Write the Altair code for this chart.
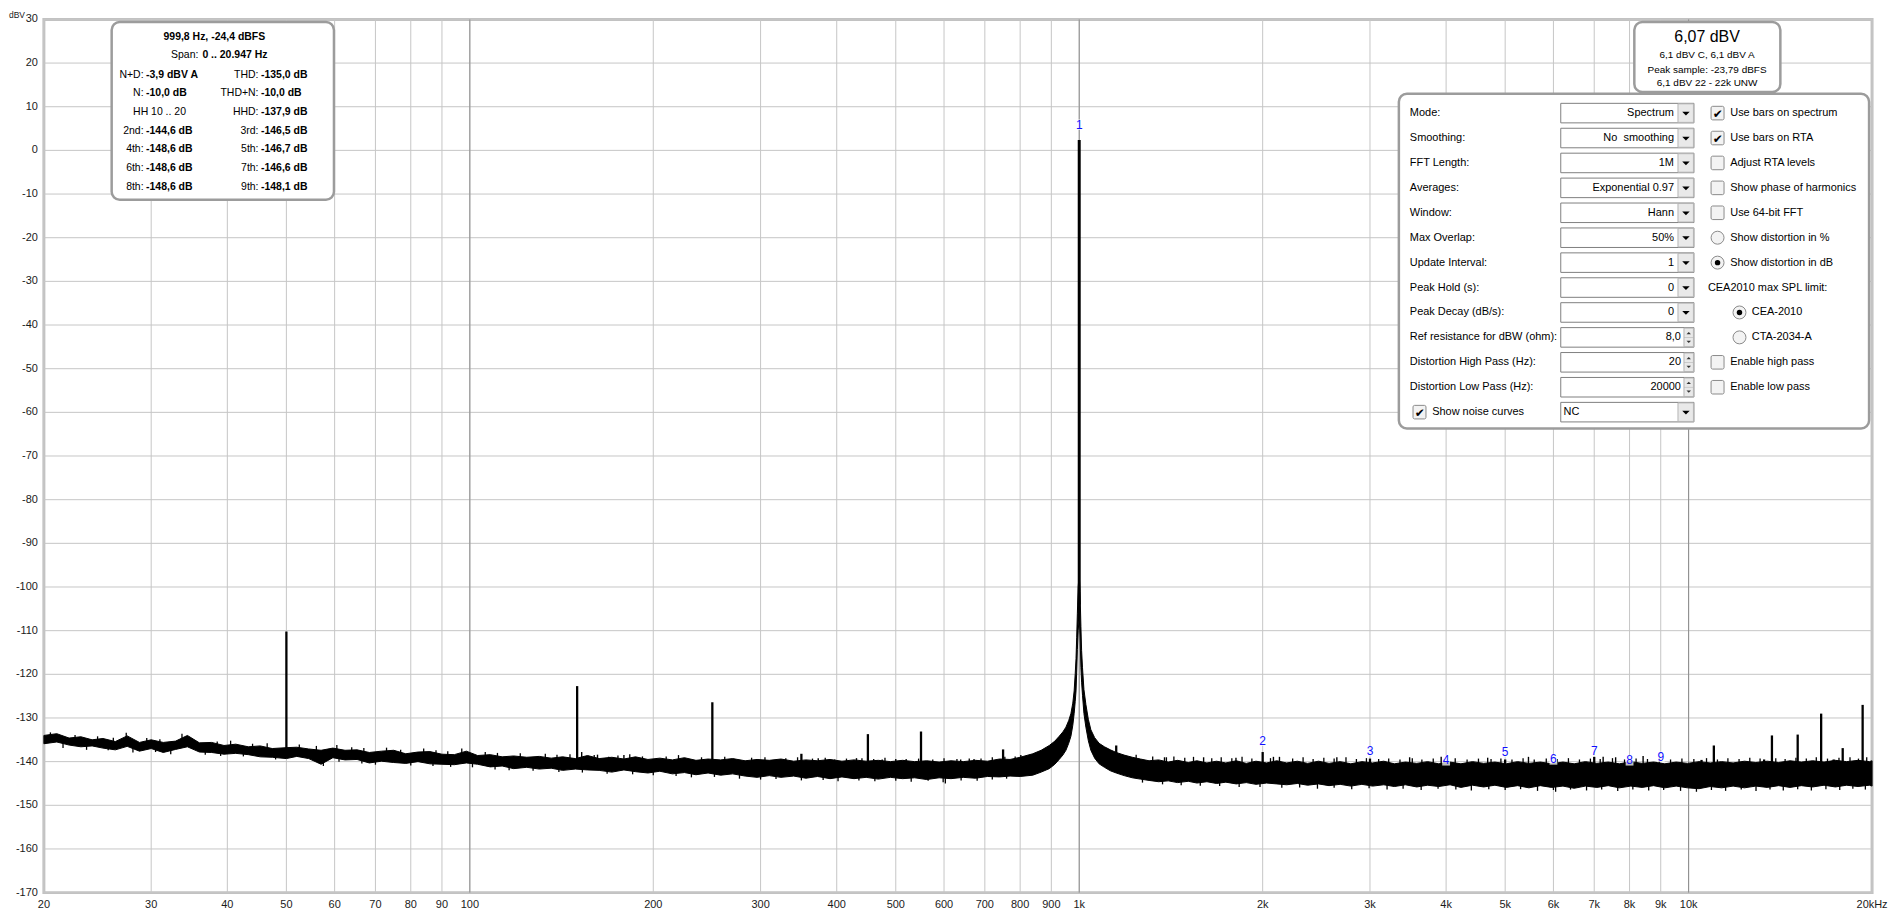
import altair as alt
import pandas as pd

FONT = "Liberation Sans"

# ---------------- spectrum values ----------------
band_freq = [20, 21, 22, 23, 24, 25, 26.2, 27.4, 28.7, 30, 31.4, 32.9, 34.4, 36, 37.7, 39.5,
             41.3, 43.3, 45.3, 47.4, 50, 52, 54.4, 57, 59.6, 62.4, 65.3, 68.4, 71.6, 75, 78.5,
             82.2, 86, 90, 94.3, 98.7, 103, 108, 113, 118, 124, 130, 136, 142, 149, 156, 163,
             171, 179, 187, 196, 205, 215, 225, 235, 246, 258, 270, 283, 296, 310, 324, 340,
             356, 372, 390, 408, 427, 447, 468, 490, 513, 537, 562, 589, 616, 645, 676, 707,
             740, 770, 800, 839, 866, 893, 912, 927, 940, 951, 961, 969, 976, 981, 985, 988,
             990.5, 993, 996, 1000, 1003, 1006.4, 1009, 1012.5, 1018, 1025.5, 1035, 1045, 1060,
             1078, 1100, 1125, 1150, 1185, 1222, 1260, 1302, 1350, 1400, 1450, 1510, 1560, 1620,
             1680, 1740, 1810, 1880, 1950, 2030, 2110, 2190, 2280, 2370, 2470, 2570, 2680, 2790,
             2910, 3030, 3160, 3290, 3430, 3580, 3730, 3890, 4060, 4230, 4420, 4610, 4810, 5020,
             5240, 5470, 5710, 5960, 6220, 6490, 6770, 7070, 7380, 7700, 8040, 8390, 8760, 9140,
             9540, 9960, 10400, 10850, 11330, 11830, 12350, 12890, 13460, 14050, 14670, 15310,
             15980, 16680, 17410, 18170, 18970, 19800, 20000]
band_upper = [-134.0, -133.6, -134.6, -134.3, -135.0, -134.7, -135.4, -134.1, -135.6, -135.0,
              -135.6, -135.3, -134.0, -135.7, -135.6, -136.3, -136.0, -136.6, -136.4, -137.0,
              -136.8, -136.7, -137.1, -137.4, -136.9, -137.4, -137.3, -137.9, -137.6, -137.4,
              -138.2, -137.8, -137.7, -138.3, -138.4, -137.6, -138.6, -138.4, -138.9, -138.7,
              -139.0, -138.8, -139.2, -138.9, -139.3, -138.6, -139.3, -139.0, -139.4, -138.9,
              -139.5, -139.2, -139.6, -139.1, -139.7, -139.4, -139.6, -139.3, -139.8, -139.5,
              -139.7, -139.4, -139.9, -139.6, -139.8, -139.5, -139.9, -139.6, -139.9, -139.7,
              -140.0, -139.7, -140.0, -139.8, -140.1, -139.8, -140.0, -139.7, -139.9, -139.4,
              -139.5, -139.0, -138.2, -137.4, -136.3, -135.3, -134.2, -133.2, -132.1, -130.6,
              -129.0, -126.6, -123.8, -119.8, -116.4, -111.5, -106.0, -100.0, -97.0, -101.0,
              -109.1, -114.5, -118.5, -123.5, -126.9, -130.3, -132.7, -134.5, -135.8, -136.6,
              -137.3, -137.9, -138.5, -139.0, -139.4, -139.8, -139.6, -140.1, -139.7, -140.2,
              -139.8, -140.3, -139.9, -140.3, -139.8, -140.4, -139.9, -140.3, -139.8, -140.3,
              -139.9, -140.4, -139.9, -140.4, -140.0, -140.5, -140.0, -140.3, -139.9, -140.5,
              -140.1, -140.4, -140.0, -140.5, -140.1, -140.5, -140.0, -140.4, -140.1, -140.5,
              -140.0, -140.4, -140.1, -140.5, -140.1, -140.5, -140.0, -140.4, -140.1, -140.5,
              -140.0, -140.4, -140.1, -140.5, -140.1, -140.4, -140.0, -140.3, -140.0, -140.3,
              -139.9, -140.2, -139.9, -140.2, -139.8, -140.1, -139.8, -140.1, -139.7, -140.0,
              -139.7, -140.0, -139.8]
band_lower = [-135.9, -135.5, -136.2, -136.6, -136.4, -136.9, -137.3, -136.5, -137.6, -137.0,
              -137.9, -137.2, -136.6, -137.8, -137.9, -138.3, -138.1, -138.4, -138.9, -139.0,
              -139.3, -138.8, -139.3, -140.6, -139.1, -139.6, -139.5, -140.3, -139.9, -140.2,
              -140.4, -140.0, -140.5, -140.6, -140.7, -140.3, -140.6, -141.2, -141.0, -141.6,
              -141.3, -141.7, -141.5, -142.0, -141.7, -141.9, -142.0, -142.4, -141.9, -142.3,
              -142.6, -142.2, -142.8, -142.5, -143.0, -142.6, -143.1, -142.8, -143.3, -143.6,
              -143.2, -143.6, -143.3, -143.8, -143.4, -143.9, -143.5, -143.9, -143.6, -144.0,
              -143.6, -143.9, -143.7, -144.1, -143.7, -143.9, -143.6, -143.8, -143.4, -143.5,
              -143.3, -143.4, -143.1, -142.4, -141.6, -140.6, -139.5, -138.5, -137.4, -135.8,
              -134.2, -131.7, -129.0, -126.2, -123.8, -119.5, -114.3, -110.0, -107.0, -111.0,
              -118.5, -121.8, -124.8, -129.0, -132.1, -135.2, -137.4, -139.2, -140.5, -141.3,
              -142.1, -142.6, -143.2, -143.7, -144.0, -144.3, -144.6, -144.4, -144.8, -144.5,
              -144.9, -144.6, -145.0, -144.7, -145.1, -144.8, -145.2, -144.9, -145.1, -145.3,
              -145.0, -145.4, -145.1, -145.5, -145.2, -145.6, -145.2, -145.6, -145.3, -145.7,
              -145.3, -145.8, -145.4, -145.7, -145.3, -145.9, -145.4, -145.8, -145.4, -145.9,
              -145.5, -146.0, -145.5, -145.9, -145.6, -146.1, -145.6, -145.9, -145.5, -146.0,
              -145.6, -145.9, -145.5, -146.0, -145.6, -146.0, -146.2, -145.7, -146.0, -145.6,
              -146.0, -145.6, -145.9, -145.5, -145.9, -145.5, -145.8, -145.4, -145.8, -145.4,
              -145.7, -145.4, -145.6]

# short noise peaks standing above the floor (frequency, tip)
fuzz_up_freq = [20.5, 22.5, 24.5, 26, 27.3, 29.5, 31, 33.7, 35, 38.5, 40.5, 44, 46.5, 52.5, 56,
                60.5, 64, 67, 73, 77, 84, 88, 92, 97, 106, 111, 121, 133, 139, 146, 160, 175,
                183, 192, 210, 220, 240, 262, 290, 305, 330, 345, 365, 383, 415, 440, 460, 480,
                520, 545, 575, 600, 630, 660, 690, 720, 755, 785,
                1240, 1320, 1380, 1430, 1490, 1540, 1650, 1710, 1780, 1850, 1920, 2060, 2240,
                2330, 2420, 2520, 2620, 2740, 2850, 2960, 3100, 3220, 3360, 3520, 3650, 3810,
                3970, 4140, 4330, 4520, 4740, 4920, 5130, 5350, 5580, 5840, 6090, 6350, 6620,
                6900, 7160, 7500, 7850, 8200, 8560, 8950, 9340, 9750, 10200, 10700, 11150,
                11600, 12100, 12600, 13100, 13900, 14400, 15000, 15600, 16200, 16900, 17650,
                18400, 19000, 19600]
fuzz_up_tip = [-133.3, -133.9, -134.2, -134.5, -133.4, -134.6, -134.9, -133.6, -135.1, -135.4,
               -135.2, -135.9, -135.8, -136.1, -136.4, -136.2, -136.7, -136.9, -136.8, -137.3,
               -137.0, -137.4, -137.6, -137.0, -137.8, -138.0, -138.1, -138.2, -138.4, -138.3,
               -138.5, -138.6, -138.3, -138.8, -138.8, -138.5, -139.0, -138.9, -139.1, -139.0,
               -139.2, -139.0, -139.3, -139.1, -139.3, -139.2, -139.4, -139.1, -139.4, -139.3,
               -139.5, -139.2, -139.4, -139.3, -139.3, -139.0, -138.9, -138.8,
               -138.4, -138.8, -139.0, -138.8, -139.1, -138.9, -139.2, -139.0, -139.2, -138.9,
               -139.3, -139.2, -139.3, -139.0, -139.4, -139.1, -139.3, -139.0, -139.4, -139.2,
               -139.4, -139.3, -139.5, -139.2, -139.5, -139.3, -139.5, -139.2, -139.5, -139.3,
               -139.4, -139.3, -139.5, -139.2, -139.5, -139.3, -139.4, -139.2, -139.5, -139.3,
               -139.4, -139.2, -139.5, -139.3, -139.4, -139.2, -139.5, -139.3, -139.4, -139.2,
               -139.5, -139.2, -139.4, -139.1, -139.3, -139.2, -139.4, -139.1, -139.3, -139.0,
               -139.3, -139.1, -139.0, -139.3, -139.0]
# short noise dips below the floor (frequency, tip)
fuzz_dn_freq = [21.5, 23.5, 25.5, 28, 30.5, 32.3, 36.8, 39, 42.5, 48, 55.5, 57.5, 61, 66.5, 70,
                80, 87, 93, 101, 110, 116, 127, 140, 153, 168, 185, 200, 218, 231, 252, 277,
                300, 318, 350, 380, 402, 435, 462, 500, 530, 565, 598, 603, 640, 680, 720, 760,
                1270, 1370, 1470, 1580, 1700, 1830, 1980, 2150, 2300, 2460, 2620, 2800, 2990,
                3200, 3400, 3640, 3880, 4150, 4400, 4700, 5000, 5300, 5650, 6000, 6050, 6400,
                6800, 7200, 7650, 8100, 8600, 9100, 9700, 10300, 10900, 11500, 12200, 12900,
                13600, 14300, 15100, 15900, 16800, 17700, 18600, 19500]
fuzz_dn_tip = [-136.9, -137.3, -137.4, -137.9, -137.8, -138.3, -138.4, -138.7, -138.8, -139.5,
               -139.8, -141.0, -140.0, -140.4, -140.7, -140.9, -141.0, -141.2, -141.3, -141.8,
               -142.0, -142.1, -142.4, -142.5, -142.8, -142.9, -143.1, -143.3, -143.6, -143.5,
               -143.9, -144.1, -144.0, -144.3, -144.2, -144.5, -144.3, -144.5, -144.4, -144.6,
               -144.4, -144.7, -145.0, -144.3, -144.4, -144.1, -143.9,
               -144.8, -145.2, -145.4, -145.5, -145.6, -145.8, -145.8, -146.0, -145.9, -146.2,
               -146.0, -146.3, -146.1, -146.4, -146.2, -146.5, -146.2, -146.4, -146.6, -146.3,
               -146.5, -146.3, -146.7, -146.5, -146.9, -146.4, -146.6, -146.4, -146.7, -146.4,
               -146.6, -146.5, -146.7, -146.9, -146.5, -146.7, -146.4, -146.7, -146.4, -146.6,
               -146.3, -146.6, -146.3, -146.5, -146.2, -146.4]

# discrete tones (frequency, top level, floor under the tone)
spike_freq = [50, 150, 250, 350, 450, 550, 750, 1150, 2000, 3000, 5000, 7000,
              10500, 11000, 13300, 13700, 15100, 16500, 17300, 17900, 19300]
spike_top = [-110.2, -122.7, -126.4, -138.2, -133.7, -133.1, -137.2, -136.3, -137.8, -139.3,
             -139.5, -138.9, -139.6, -136.3, -139.5, -134.0, -133.8, -129.0, -139.5, -136.9,
             -127.0]
spike_base = [-138.5, -140.5, -141.0, -141.5, -141.5, -141.5, -141.5, -141.5, -142.0, -142.0,
              -142.0, -142.0, -142.0, -142.0, -142.0, -142.0, -142.0, -142.0, -142.0, -142.0,
              -142.0]

# small tones sitting on the floor
tick_freq = [152.6, 162, 169, 179, 373, 397, 431, 475, 500, 639, 672, 802, 1390, 1600, 1808,
             2083, 2131, 2647, 3485, 3926, 4680, 5460, 7240, 7590, 8420]
tick_top = [-137.8, -138.4, -138.9, -138.5, -139.2, -139.5, -139.2, -139.5, -139.4, -139.5,
            -139.4, -138.5, -139.0, -139.0, -139.1, -138.9, -138.9, -139.0, -139.0, -138.9,
            -139.1, -138.9, -138.9, -139.0, -138.7]
tick_base = [-141.0] * 12 + [-142.0] * 13

# fundamental
fund_freq = [1000]
fund_top = [2.4]
fund_base = [-104.0]

# harmonic markers
harm_number = ["1", "2", "3", "4", "5", "6", "7", "8", "9"]
harm_freq = [1000, 2000, 3000, 4000, 5000, 6000, 7000, 8000, 9000]
harm_marker_db = [5.9, -135.2, -137.6, -139.7, -137.8, -139.5, -137.6, -139.7, -138.9]

# axes
x_tick_values = [20, 30, 40, 50, 60, 70, 80, 90, 100, 200, 300, 400, 500, 600, 700, 800, 900,
                 1000, 2000, 3000, 4000, 5000, 6000, 7000, 8000, 9000, 10000, 20000]
x_tick_labels = ["20", "30", "40", "50", "60", "70", "80", "90", "100", "200", "300", "400",
                 "500", "600", "700", "800", "900", "1k", "2k", "3k", "4k", "5k", "6k", "7k",
                 "8k", "9k", "10k", "20kHz"]
decade_lines = [100, 1000, 10000]
y_tick_values = [-170, -160, -150, -140, -130, -120, -110, -100, -90, -80, -70, -60, -50,
                 -40, -30, -20, -10, 0, 10, 20, 30]
y_tick_labels = ["-170", "-160", "-150", "-140", "-130", "-120", "-110", "-100", "-90", "-80",
                 "-70", "-60", "-50", "-40", "-30", "-20", "-10", "0", "10", "20", "30"]
y_unit = "dBV"

# measurement panel texts
summary_title = "999,8 Hz, -24,4 dBFS"
span_label = "Span:"
span_value = "0 .. 20.947 Hz"
left_labels = ["N+D:", "N:", "", "2nd:", "4th:", "6th:", "8th:"]
left_values = ["-3,9 dBV A", "-10,0 dB", "", "-144,6 dB", "-148,6 dB", "-148,6 dB", "-148,6 dB"]
hh_label = "HH 10 .. 20"
right_labels = ["THD:", "THD+N:", "HHD:", "3rd:", "5th:", "7th:", "9th:"]
right_values = ["-135,0 dB", "-10,0 dB", "-137,9 dB", "-146,5 dB", "-146,7 dB", "-146,6 dB", "-148,1 dB"]

level_main = "6,07 dBV"
level_lines = ["6,1 dBV C, 6,1 dBV A", "Peak sample: -23,79 dBFS", "6,1 dBV 22 - 22k UNW"]

setting_labels = ["Mode:", "Smoothing:", "FFT Length:", "Averages:", "Window:", "Max Overlap:",
                  "Update Interval:", "Peak Hold (s):", "Peak Decay (dB/s):",
                  "Ref resistance for dBW (ohm):", "Distortion High Pass (Hz):",
                  "Distortion Low Pass (Hz):"]
setting_values = ["Spectrum", "No\u00a0 smoothing", "1M", "Exponential 0.97", "Hann", "50%", "1",
                  "0", "0", "8,0", "20", "20000"]
noise_curve_label = "Show noise curves"
noise_curve_value = "NC"
option_texts = ["Use bars on spectrum", "Use bars on RTA", "Adjust RTA levels",
                "Show phase of harmonics", "Use 64-bit FFT", "Show distortion in %",
                "Show distortion in dB", "CEA2010 max SPL limit:", "CEA-2010", "CTA-2034-A",
                "Enable high pass", "Enable low pass"]
option_kind = ["check", "check", "check", "check", "check", "radio", "radio", "label",
               "radio2", "radio2", "check", "check"]
option_on = [True, True, False, False, False, False, True, False, True, False, False, False]

# ---------------- layout (pixels) ----------------
W, H = 1834, 876
OX, OY = 44, 18  # page position of the plot origin


def px(x):
    return x - OX


def py(y):
    return y - OY


xscale = alt.Scale(type="log", domain=[20, 20000], nice=False)
yscale = alt.Scale(domain=[-170, 30], nice=False, zero=False)
XF = alt.X("freq:Q", scale=xscale, axis=None)

band_df = pd.DataFrame({"freq": band_freq, "upper": band_upper, "lower": band_lower})
spike_df = pd.DataFrame({"freq": spike_freq, "top": spike_top, "base": spike_base})
tick_df = pd.DataFrame({"freq": tick_freq, "top": tick_top, "base": tick_base})
fund_df = pd.DataFrame({"freq": fund_freq, "top": fund_top, "base": fund_base})
harm_df = pd.DataFrame({"n": harm_number, "freq": harm_freq, "db": harm_marker_db})
dec_df = pd.DataFrame({"freq": decade_lines})
xg_df = pd.DataFrame({"freq": x_tick_values, "lab": x_tick_labels})
yg_df = pd.DataFrame({"db": y_tick_values, "lab": y_tick_labels})
fu_df = pd.DataFrame({"freq": fuzz_up_freq, "tip": fuzz_up_tip})
fd_df = pd.DataFrame({"freq": fuzz_dn_freq, "tip": fuzz_dn_tip})

grid_x = alt.Chart(xg_df).mark_rule(color="#c6c6c6", strokeWidth=1).encode(x=XF)
grid_y = alt.Chart(yg_df).mark_rule(color="#c6c6c6", strokeWidth=1).encode(
    y=alt.Y("db:Q", scale=yscale, axis=None))
decades = alt.Chart(dec_df).mark_rule(color="#8c8c8c", strokeWidth=1).encode(x=XF)

lab_x = alt.Chart(xg_df).mark_text(font=FONT, fontSize=11, color="#1a1a1a", align="center",
                                   baseline="middle").encode(
    x=XF, y=alt.value(H + 12.7), text="lab:N")
lab_y = alt.Chart(yg_df).mark_text(font=FONT, fontSize=11, color="#1a1a1a", align="right",
                                   baseline="middle").encode(
    x=alt.value(-6), y=alt.Y("db:Q", scale=yscale, axis=None), text="lab:N")

band = alt.Chart(band_df).mark_area(color="black", stroke="black", strokeWidth=1,
                                    interpolate="linear").encode(
    x=XF, y=alt.Y("upper:Q", scale=yscale, axis=None), y2="lower:Q")

fuzz_up = alt.Chart(fu_df).transform_calculate(base="datum.tip - 2").mark_rule(
    color="black", strokeWidth=1.3).encode(
    x=XF, y=alt.Y("tip:Q", scale=yscale, axis=None), y2="base:Q")
fuzz_dn = alt.Chart(fd_df).transform_calculate(base="datum.tip + 2").mark_rule(
    color="black", strokeWidth=1.3).encode(
    x=XF, y=alt.Y("tip:Q", scale=yscale, axis=None), y2="base:Q")

spikes = alt.Chart(spike_df).mark_rule(color="black", strokeWidth=2.3).encode(
    x=XF, y=alt.Y("top:Q", scale=yscale, axis=None), y2="base:Q")
ticks = alt.Chart(tick_df).mark_rule(color="black", strokeWidth=1.4).encode(
    x=XF, y=alt.Y("top:Q", scale=yscale, axis=None), y2="base:Q")
fund = alt.Chart(fund_df).mark_rule(color="black", strokeWidth=3).encode(
    x=XF, y=alt.Y("top:Q", scale=yscale, axis=None), y2="base:Q")

harm_bg = alt.Chart(harm_df).mark_point(
    shape="M -0.75 -1 L 0.75 -1 L 0.75 1 L -0.75 1 Z", filled=True, color="white",
    opacity=0.75, size=110).encode(x=XF, y=alt.Y("db:Q", scale=yscale, axis=None))
harm_txt = alt.Chart(harm_df).mark_text(font=FONT, fontSize=12, color="#1010ff",
                                        baseline="middle", align="center").encode(
    x=XF, y=alt.Y("db:Q", scale=yscale, axis=None), text="n:N")


# ---------------- overlay helpers (pixel positioned) ----------------
def pix_text(rows, align="left", weight="normal", size=11, color="black", font=FONT,
             baseline="middle"):
    df = pd.DataFrame(rows, columns=["px", "py", "t"])
    return alt.Chart(df).mark_text(align=align, baseline=baseline, font=font, fontSize=size,
                                   fontWeight=weight, color=color).encode(
        x=alt.X("px:Q", scale=None, axis=None), y=alt.Y("py:Q", scale=None, axis=None),
        text="t:N")


def pix_rects(rows, fill="white", stroke="#9a9a9a", strokeWidth=1.0, radius=0):
    df = pd.DataFrame(rows, columns=["x1", "y1", "x2", "y2"])
    kw = dict(fill=fill, strokeWidth=strokeWidth, cornerRadius=radius, opacity=1)
    if stroke:
        kw["stroke"] = stroke
    return alt.Chart(df).mark_rect(**kw).encode(
        x=alt.X("x1:Q", scale=None, axis=None), x2="x2:Q",
        y=alt.Y("y1:Q", scale=None, axis=None), y2="y2:Q")


def pix_points(rows, shape, size, fill, stroke=None, strokeWidth=1):
    df = pd.DataFrame(rows, columns=["px", "py"])
    kw = dict(shape=shape, size=size, filled=True, fill=fill, opacity=1, strokeWidth=strokeWidth)
    if stroke:
        kw["stroke"] = stroke
    return alt.Chart(df).mark_point(**kw).encode(
        x=alt.X("px:Q", scale=None, axis=None), y=alt.Y("py:Q", scale=None, axis=None))


layers = []

# axis unit, placed left of the "30" label so the two do not collide
layers.append(pix_text([(px(25), py(14), y_unit)], align="right", size=8.5, color="#1a1a1a",
                       baseline="middle"))

# --- measurement box (top left)
layers.append(pix_rects([(px(112), py(20.7), px(335), py(199))], stroke="#9c9c9c",
                        strokeWidth=2.5, radius=8))
layers.append(pix_text([(px(215), py(36), summary_title)], align="center", weight="bold",
                       size=10.5))
row_y = [73.3, 91.5, 110.5, 129.5, 148.5, 167.5, 186.5]
lab_rows = [(px(199), py(53.3), span_label)]
val_rows = [(px(203), py(53.3), span_value)]
for i, yy in enumerate(row_y):
    if left_labels[i]:
        lab_rows.append((px(144), py(yy), left_labels[i]))
        val_rows.append((px(146.5), py(yy), left_values[i]))
    lab_rows.append((px(259.3), py(yy), right_labels[i]))
    val_rows.append((px(261.8), py(yy), right_values[i]))
layers.append(pix_text(lab_rows, align="right", size=10.5))
layers.append(pix_text(val_rows, align="left", weight="bold", size=10.5))
layers.append(pix_text([(px(160), py(110.5), hh_label)], align="center", size=10.5))

# --- level box (top right)
layers.append(pix_rects([(px(1639.5), py(20.7), px(1786), py(90.9))], stroke="#9c9c9c",
                        strokeWidth=2.5, radius=8))
layers.append(pix_text([(px(1712.5), py(35.5), level_main)], align="center", size=16))
layers.append(pix_text([(px(1712.5), py(53.5), level_lines[0]),
                        (px(1712.5), py(68.3), level_lines[1]),
                        (px(1712.5), py(82), level_lines[2])], align="center", size=10))

# --- settings panel
layers.append(pix_rects([(px(1403.3), py(92.7), px(1875), py(428.3))], stroke="#9c9c9c",
                        strokeWidth=2.5, radius=8))
ROW0, PITCH = 112.0, 25.0
rows_y = [ROW0 + PITCH * i for i in range(13)]

field_rows = [(px(1565.7), py(y - 9.8), px(1699.3), py(y + 9.8)) for y in rows_y]
layers.append(pix_rects(field_rows, fill="white", stroke="#7f7f7f", strokeWidth=1))
drop_btn = [(px(1683.3), py(y - 9.3), px(1698.8), py(y + 9.3)) for y in rows_y[:9] + rows_y[12:]]
spin_btn = [(px(1689.3), py(y - 9.3), px(1698.8), py(y + 9.3)) for y in rows_y[9:12]]
layers.append(pix_rects(drop_btn + spin_btn, fill="#e9e9e9", stroke="#b5b5b5", strokeWidth=1))
spin_mid = [(px(1689.3), py(y - 0.3), px(1698.8), py(y + 0.3)) for y in rows_y[9:12]]
layers.append(pix_rects(spin_mid, fill="#b5b5b5", stroke=None))
layers.append(pix_points([(px(1691.3), py(y + 0.5)) for y in rows_y[:9] + rows_y[12:]],
                         "M -1 -0.5 L 1 -0.5 L 0 0.5 Z", 56, "black"))
layers.append(pix_points([(px(1694.1), py(y - 4.3)) for y in rows_y[9:12]],
                         "M -1 0.5 L 1 0.5 L 0 -0.5 Z", 20, "#333333"))
layers.append(pix_points([(px(1694.1), py(y + 4.5)) for y in rows_y[9:12]],
                         "M -1 -0.5 L 1 -0.5 L 0 0.5 Z", 20, "#333333"))

layers.append(pix_text([(px(1414.3), py(rows_y[i]), t) for i, t in enumerate(setting_labels)],
                       align="left", size=11))
val_text = [(px(1679.3), py(rows_y[i]), setting_values[i]) for i in range(9)]
val_text += [(px(1686.3), py(rows_y[i]), setting_values[i]) for i in range(9, 12)]
layers.append(pix_text(val_text, align="right", size=11))
layers.append(pix_text([(px(1568.5), py(rows_y[12]), noise_curve_value),
                        (px(1436.7), py(rows_y[12]), noise_curve_label)], align="left", size=11))

# option column
check_boxes, check_marks, radios, radio_dots, opt_text = [], [], [], [], []
for i, kind in enumerate(option_kind):
    y = rows_y[i]
    if kind == "check":
        check_boxes.append((px(1716.5), py(y - 6.8), px(1729.5), py(y + 6.8)))
        if option_on[i]:
            check_marks.append((px(1723.3), py(y + 0.5), "\u2714"))
        opt_text.append((px(1735.7), py(y), option_texts[i]))
    elif kind == "radio":
        radios.append((px(1723), py(y)))
        if option_on[i]:
            radio_dots.append((px(1723), py(y)))
        opt_text.append((px(1735.7), py(y), option_texts[i]))
    elif kind == "radio2":
        radios.append((px(1745), py(y)))
        if option_on[i]:
            radio_dots.append((px(1745), py(y)))
        opt_text.append((px(1757.3), py(y), option_texts[i]))
    else:
        opt_text.append((px(1713.3), py(y), option_texts[i]))
check_boxes.append((px(1417.5), py(rows_y[12] - 6.8), px(1430.5), py(rows_y[12] + 6.8)))
check_marks.append((px(1424.3), py(rows_y[12] + 0.5), "\u2714"))

layers.append(pix_rects(check_boxes, fill="#f3f3f3", stroke="#8a8a8a", strokeWidth=1,
                        radius=1.5))
layers.append(pix_points(radios, "circle", 169, "#f3f3f3", stroke="#8a8a8a", strokeWidth=1))
layers.append(pix_points(radio_dots, "circle", 30, "black"))
layers.append(pix_text(check_marks, align="center", size=12, font="DejaVu Sans"))
layers.append(pix_text(opt_text, align="left", size=11))

chart = alt.layer(grid_x, grid_y, decades, lab_x, lab_y, band, fuzz_up, fuzz_dn, ticks, spikes,
                  fund, harm_bg, harm_txt, *layers).properties(
    width=W, height=H,
    padding={"left": 36, "top": 10, "right": 20, "bottom": 18},
    autosize=alt.AutoSizeParams(type="none"),
    background="white",
).configure_view(stroke="#c2c2c2", strokeWidth=3)

chart.save("out.html", embed_options={"renderer": "svg", "actions": False})
